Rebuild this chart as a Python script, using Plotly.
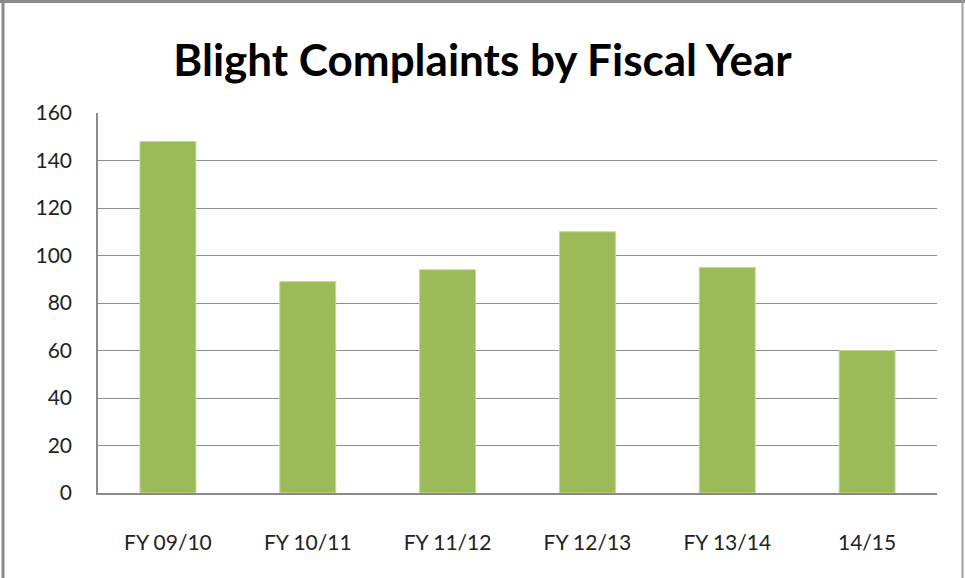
import plotly.graph_objects as go

categories = ["FY 09/10", "FY 10/11", "FY 11/12", "FY 12/13", "FY 13/14", "14/15"]
complaints = [148, 89, 94, 110, 95, 60]
y_ticks = [0, 20, 40, 60, 80, 100, 120, 140, 160]

W, H = 965, 578
ml, mr, mt, mb = 98, 28, 113, 85
pw, ph = W - ml - mr, H - mt - mb

def px(x):
    return (x - ml) / pw

def py(y):
    return (H - mb - y) / ph

fig = go.Figure(go.Bar(
    x=categories, y=complaints,
    marker=dict(color="#9bbb59", line=dict(color="#c3d69b", width=1)),
    width=0.4,
))

fig.update_layout(
    width=W, height=H,
    margin=dict(l=ml, r=mr, t=mt, b=mb),
    paper_bgcolor="white", plot_bgcolor="white",
    showlegend=False,
    title=dict(text="<b>Blight Complaints by Fiscal Year</b>",
               x=0.5, xanchor="center", y=1 - 61 / H, yanchor="middle",
               font=dict(family="Lato", size=44, color="black")),
    font=dict(family="Lato", color="#222"),
    bargap=0.6,
)
fig.update_xaxes(showline=True, linecolor="#8a8a8a", linewidth=1.5,
                 showgrid=False, ticks="", tickfont=dict(size=21, color="#222"),
                 ticklabelstandoff=30)
fig.update_yaxes(range=[0, 160], tickvals=y_ticks, showline=True,
                 linecolor="#8a8a8a", linewidth=1.5,
                 showgrid=True, gridcolor="#8f8f8f", gridwidth=1.2,
                 zeroline=False, ticks="", tickfont=dict(size=21, color="#222"),
                 ticklabelstandoff=20)

border = "#8a8a8a"
fig.add_shape(type="line", xref="paper", yref="paper",
              x0=px(3), x1=px(3), y0=py(0), y1=py(H), line=dict(color=border, width=3))
fig.add_shape(type="line", xref="paper", yref="paper",
              x0=px(0), x1=px(W), y0=py(1.5), y1=py(1.5), line=dict(color=border, width=3))
fig.add_shape(type="line", xref="paper", yref="paper",
              x0=px(962.5), x1=px(962.5), y0=py(0), y1=py(H), line=dict(color="#a0a0a0", width=2))

fig.write_html("out.html", config={"displayModeBar": False},
               post_script="document.body.style.margin='0';document.body.style.overflow='hidden';")
